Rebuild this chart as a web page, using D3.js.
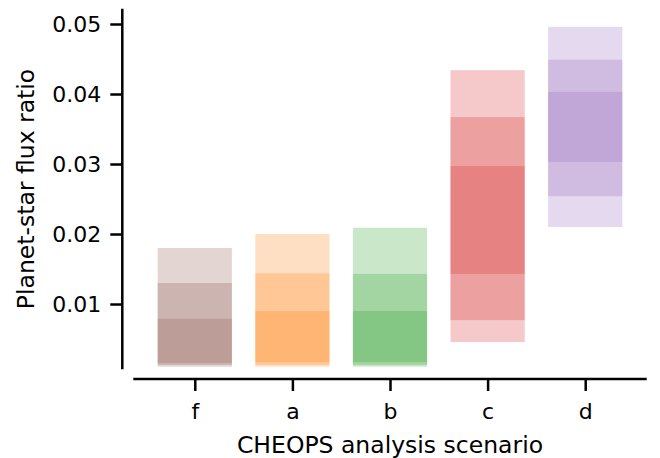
<!DOCTYPE html>
<html>
<head>
<meta charset="utf-8">
<script src="https://cdn.jsdelivr.net/npm/d3@7"></script>
<style>
  body { margin: 0; background: #fff; }
  svg { display: block; font-family: "DejaVu Sans", sans-serif; }
</style>
</head>
<body>
<svg id="chart" width="660" height="458"></svg>
<script>
const categories = ["f", "a", "b", "c", "d"];
const colors = ["#8c564b", "#ff7f0e", "#2ca02c", "#d62728", "#9467bd"];
// credible intervals: 3-sigma, 2-sigma, 1-sigma bounds
const lo3 = [0.00105, 0.00105, 0.00105, 0.00457, 0.0210];
const lo2 = [0.00130, 0.00130, 0.00130, 0.0077, 0.0254];
const lo1 = [0.00157, 0.00170, 0.00170, 0.0143, 0.0303];
const hi1 = [0.0079, 0.0090, 0.0090, 0.0297, 0.0403];
const hi2 = [0.0130, 0.0144, 0.0143, 0.0367, 0.0449];
const hi3 = [0.0180, 0.0200, 0.0209, 0.0434, 0.0496];
const yTicks = [0.01, 0.02, 0.03, 0.04, 0.05];

const svg = d3.select("#chart");
const plot = { left: 133.3, right: 646.7, top: 10, bottom: 368 };
const offset = 11;

const x = d3.scaleLinear().domain([-0.63, 4.63]).range([plot.left, plot.right]);
const y = d3.scaleLinear().domain([0.00086, 0.052]).range([plot.bottom, plot.top]);
const barW = 0.76;

const bands = [[lo3, hi3], [lo2, hi2], [lo1, hi1]];
bands.forEach(([lo, hi]) => {
  svg.append("g").selectAll("rect")
    .data(categories.map((c, i) => ({ i, lo: lo[i], hi: hi[i] })))
    .join("rect")
    .attr("x", d => x(d.i - barW / 2))
    .attr("width", d => x(d.i + barW / 2) - x(d.i - barW / 2))
    .attr("y", d => y(d.hi))
    .attr("height", d => y(d.lo) - y(d.hi))
    .attr("fill", d => colors[d.i])
    .attr("fill-opacity", 0.25);
});

const fontTick = 22;
const fontLabel = 23.5;
// y axis
const yAxis = d3.axisLeft(y).tickValues(yTicks).tickFormat(d3.format(".2f"))
  .tickSizeOuter(0).tickSizeInner(12).tickPadding(9);
const gy = svg.append("g").attr("transform", `translate(${plot.left - offset},0)`).call(yAxis);
gy.select(".domain").remove();
gy.append("line").attr("x1", 0).attr("x2", 0).attr("y1", plot.top).attr("y2", plot.bottom)
  .attr("stroke", "#000").attr("stroke-width", 2.5).attr("stroke-linecap", "square");
gy.selectAll(".tick line").attr("stroke", "#000").attr("stroke-width", 2.5);
gy.selectAll(".tick text").attr("font-size", fontTick).attr("fill", "#000")
  .attr("font-family", "DejaVu Sans");

// x axis
const xAxis = d3.axisBottom(x).tickValues(d3.range(categories.length))
  .tickFormat(i => categories[i]).tickSizeOuter(0).tickSizeInner(12).tickPadding(12);
const gx = svg.append("g").attr("transform", `translate(0,${plot.bottom + offset})`).call(xAxis);
gx.select(".domain").remove();
gx.append("line").attr("x1", plot.left).attr("x2", plot.right).attr("y1", 0).attr("y2", 0)
  .attr("stroke", "#000").attr("stroke-width", 2.5);
gx.selectAll(".tick line").attr("stroke", "#000").attr("stroke-width", 2.5);
gx.selectAll(".tick text").attr("font-size", fontTick).attr("fill", "#000")
  .attr("font-family", "DejaVu Sans");

// axis labels
svg.append("text").attr("x", (plot.left + plot.right) / 2).attr("y", 453)
  .attr("text-anchor", "middle").attr("font-size", fontLabel).attr("fill", "#000")
  .text("CHEOPS analysis scenario");
svg.append("text").attr("transform", `translate(34,189) rotate(-90)`)
  .attr("text-anchor", "middle").attr("font-size", fontLabel).attr("fill", "#000")
  .text("Planet-star flux ratio");
</script>
</body>
</html>
